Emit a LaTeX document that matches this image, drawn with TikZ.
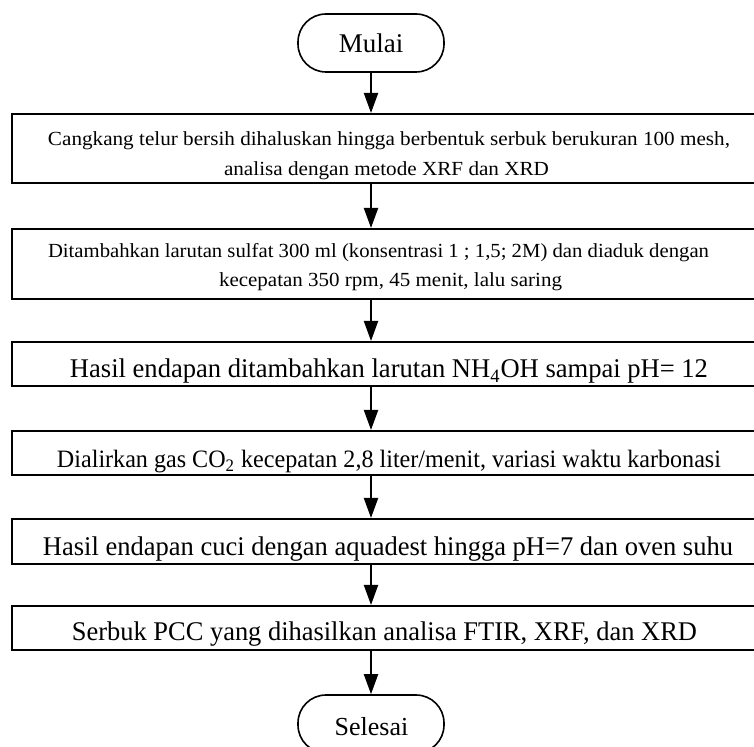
\documentclass[tikz,border=0pt]{standalone}
\usepackage{fontspec}
\setmainfont{Liberation Serif}
\usepackage{graphicx}
\usetikzlibrary{arrows.meta}
\newcommand\hfit[2]{\resizebox{#1}{\height}{#2}}
\begin{document}
\begin{tikzpicture}[x=0.5pt,y=-0.5pt,
  box/.style={draw,line width=1pt,inner sep=0pt,minimum width=377pt},
  term/.style={draw,line width=0.8pt,rounded corners=14pt,minimum width=73pt,minimum height=29pt,inner sep=0pt},
  flow/.style={line width=1pt,-{Triangle[width=7pt,length=10pt]}},
  txt/.style={inner sep=0pt,anchor=base},
  small/.style={font=\fontsize{10pt}{12pt}\selectfont},
  big/.style={font=\fontsize{13.5pt}{16pt}\selectfont}]
\useasboundingbox (0,0) rectangle (754,747);
% terminals
\node[term] (m) at (371,43) {};
\node[txt,big] (mt) at (371,53) {Mulai};
\node[term] (s) at (371,724) {};
\node[txt,font=\fontsize{13pt}{15pt}\selectfont] (st) at (371.5,735) {Selesai};
% process boxes
\node[box,minimum height=34.5pt] (b1) at (389,148.5) {};
\node[box,minimum height=35pt] (b2) at (389,264) {};
\node[box,minimum height=22pt] (b3) at (389,364) {};
\node[box,minimum height=22pt] (b4) at (389,453) {};
\node[box,minimum height=22.5pt] (b5) at (389,541.5) {};
\node[box,minimum height=22pt] (b6) at (389,628) {};
% texts
\node[txt,small] (t1a) at (389,146) {\hfit{341pt}{Cangkang telur bersih dihaluskan hingga berbentuk serbuk berukuran 100 mesh,}};
\node[txt,small] (t1b) at (386.5,176) {\hfit{162.5pt}{analisa dengan metode XRF dan XRD}};
\node[txt,small] (t2a) at (378.5,258) {\hfit{330.5pt}{Ditambahkan larutan sulfat 300 ml (konsentrasi 1 ; 1,5; 2M) dan diaduk dengan}};
\node[txt,small] (t2b) at (390.5,287) {\hfit{171.5pt}{kecepatan 350 rpm, 45 menit, lalu saring}};
\node[txt,big] (t3) at (389,378) {\hfit{319pt}{Hasil endapan ditambahkan larutan NH\textsubscript{4}OH sampai pH= 12}};
\node[txt,font=\fontsize{12.5pt}{15pt}\selectfont] (t4) at (389,468) {\hfit{332pt}{Dialirkan gas CO\textsubscript{2} kecepatan 2,8 liter/menit, variasi waktu karbonasi}};
\node[txt,big] (t5) at (388,556) {\hfit{345pt}{Hasil endapan cuci dengan aquadest hingga pH=7 dan oven suhu}};
\node[txt,big] (t6) at (384.5,640) {\hfit{312.5pt}{Serbuk PCC yang dihasilkan analisa FTIR, XRF, dan XRD}};
% connectors
\draw[flow] (m.south) -- (m.south |- b1.north);
\draw[flow] (m.south |- b1.south) -- (m.south |- b2.north);
\draw[flow] (m.south |- b2.south) -- (m.south |- b3.north);
\draw[flow] (m.south |- b3.south) -- (m.south |- b4.north);
\draw[flow] (m.south |- b4.south) -- (m.south |- b5.north);
\draw[flow] (m.south |- b5.south) -- (m.south |- b6.north);
\draw[flow] (m.south |- b6.south) -- (s.north);
\end{tikzpicture}
\end{document}
